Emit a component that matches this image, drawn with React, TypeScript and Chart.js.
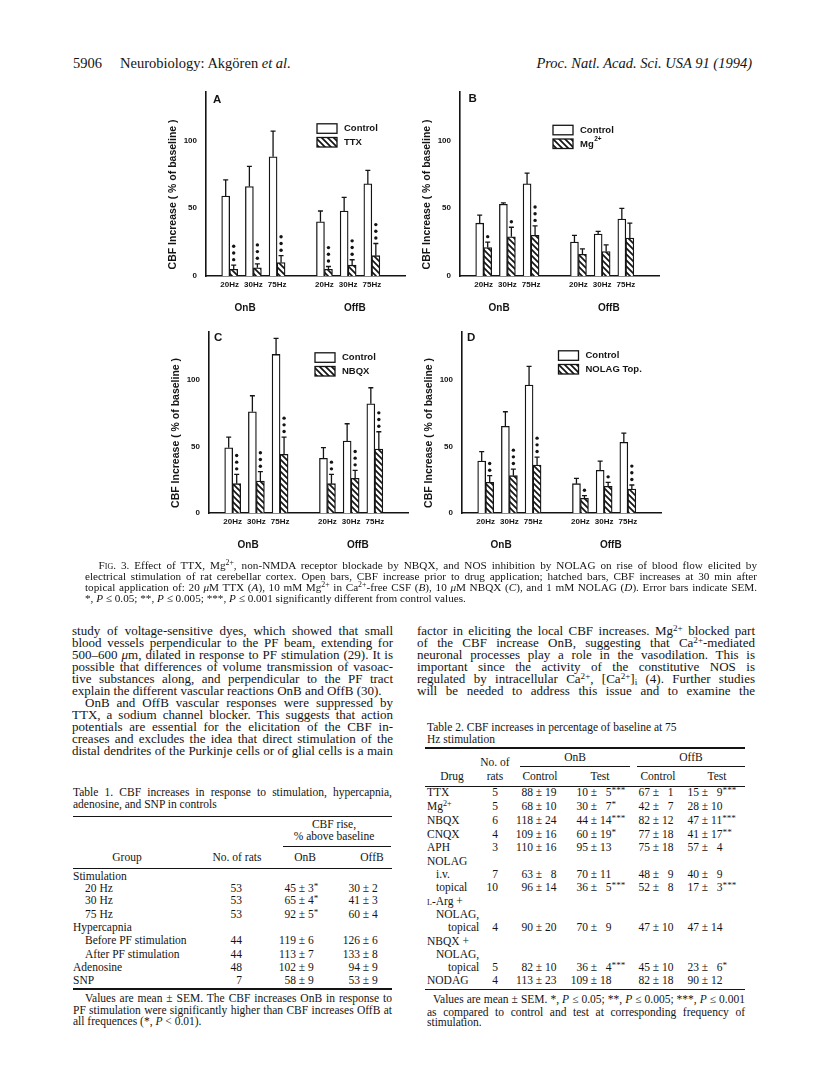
import React, { useEffect, useLayoutEffect, useRef } from 'react';
import { Chart, registerables } from 'chart.js';

Chart.register(...registerables);

const INK = '#141414';
const SANS = '"Liberation Sans", Arial, Helvetica, sans-serif';
const SERIF = '"Liberation Serif", "Times New Roman", Times, serif';

// ---------------- chart data ----------------
const FREQ_LABELS = ['20Hz', '30Hz', '75Hz', '20Hz', '30Hz', '75Hz'];
const FREQ_POS = [1, 2, 3, 5, 6, 7];
const GROUP_LABELS = ['OnB', 'OffB'];
const GROUP_POS = [1.65, 6.28];
const Y_TICKS = [0, 50, 100];
const Y_MAX = 136;
const X_MAX = 8.4;

const A_CONTROL = [59, 66, 88, 40, 48, 68];
const A_CONTROL_SEM = [12, 15, 19, 8, 10, 10];
const A_TTX = [5, 6, 10, 5, 8, 15];
const A_TTX_SEM = [3, 3, 5, 2, 4, 9];
const A_TTX_STARS = [3, 3, 3, 3, 3, 3];

const B_CONTROL = [39, 53, 68, 25, 31, 42];
const B_CONTROL_SEM = [6, 1, 8, 5, 2, 8];
const B_MG = [21, 29, 30, 16, 18, 28];
const B_MG_SEM = [4, 7, 7, 4, 5, 11];
const B_MG_STARS = [1, 1, 3, 0, 0, 0];

const C_CONTROL = [49, 76, 119, 41, 54, 82];
const C_CONTROL_SEM = [8, 12, 12, 8, 13, 12];
const C_NBQX = [22, 24, 44, 22, 26, 48];
const C_NBQX_SEM = [7, 7, 13, 7, 6, 13];
const C_NBQX_STARS = [3, 3, 3, 2, 3, 3];

const D_CONTROL = [39, 65, 96, 22, 32, 53];
const D_CONTROL_SEM = [7, 11, 14, 4, 7, 7];
const D_NOLAG = [23, 28, 36, 11, 20, 18];
const D_NOLAG_SEM = [5, 5, 6, 2, 3, 3];
const D_NOLAG_STARS = [2, 3, 3, 1, 1, 3];

const PANELS = [
  { letter: 'A', drugLabel: 'TTX', drugSup: '', control: A_CONTROL, controlSem: A_CONTROL_SEM, drug: A_TTX, drugSem: A_TTX_SEM, stars: A_TTX_STARS },
  { letter: 'B', drugLabel: 'Mg', drugSup: '2+', control: B_CONTROL, controlSem: B_CONTROL_SEM, drug: B_MG, drugSem: B_MG_SEM, stars: B_MG_STARS },
  { letter: 'C', drugLabel: 'NBQX', drugSup: '', control: C_CONTROL, controlSem: C_CONTROL_SEM, drug: C_NBQX, drugSem: C_NBQX_SEM, stars: C_NBQX_STARS },
  { letter: 'D', drugLabel: 'NOLAG Top.', drugSup: '', control: D_CONTROL, controlSem: D_CONTROL_SEM, drug: D_NOLAG, drugSem: D_NOLAG_SEM, stars: D_NOLAG_STARS },
];

// layout of each panel (page pixels)
const PANEL_LAYOUT = [
  { left: 206, top: 88, bottom: 276, legendDx: 111, legendDy: 32, letterDx: 7, letterDy: 8 },
  { left: 459.5, top: 88, bottom: 276, legendDx: 93, legendDy: 33.5, letterDx: 8.5, letterDy: 7 },
  { left: 209, top: 328, bottom: 513, legendDx: 106, legendDy: 21, letterDx: 5, letterDy: 6 },
  { left: 461.5, top: 328, bottom: 513, legendDx: 96.5, legendDy: 19, letterDx: 5, letterDy: 6 },
];

function makeHatch(ctx: CanvasRenderingContext2D) {
  const s = 6;
  const c = document.createElement('canvas');
  c.width = s;
  c.height = s;
  const g = c.getContext('2d')!;
  g.fillStyle = '#fff';
  g.fillRect(0, 0, s, s);
  g.strokeStyle = INK;
  g.lineWidth = 1.7;
  g.beginPath();
  g.moveTo(-1, -1);
  g.lineTo(s + 1, s + 1);
  g.moveTo(-1, s - 1);
  g.lineTo(1, s + 1);
  g.moveTo(s - 1, -1);
  g.lineTo(s + 1, 1);
  g.stroke();
  return ctx.createPattern(c, 'repeat')!;
}

function Panel({ def, lay }: { def: any; lay: any }) {
  const ref = useRef<HTMLCanvasElement>(null);
  const Y_W = 40, PAD_T = 10, PAD_R = 4, X_H = 18, X2_H = 30, AREA_W = 199;
  const width = Y_W + AREA_W + PAD_R;
  const height = PAD_T + (lay.bottom - lay.top) + X_H + X2_H;

  useEffect(() => {
    const canvas = ref.current!;
    const ctx = canvas.getContext('2d')!;
    const hatch = makeHatch(ctx);
    const pts = (vals: number[]) => vals.map((v, i) => ({ x: FREQ_POS[i], y: v }));

    const annot = {
      id: 'annot',
      afterDatasetsDraw(chart: any) {
        const c = chart.ctx as CanvasRenderingContext2D;
        const ys = chart.scales.y;
        const area = chart.chartArea;
        c.save();
        chart.data.datasets.forEach((ds: any, di: number) => {
          const meta = chart.getDatasetMeta(di);
          meta.data.forEach((el: any, i: number) => {
            const v = ds.data[i].y;
            const top = ys.getPixelForValue(v + ds.sem[i]);
            c.strokeStyle = INK;
            c.lineWidth = 1.3;
            c.beginPath();
            c.moveTo(el.x, el.y);
            c.lineTo(el.x, top);
            c.moveTo(el.x - 2.5, top);
            c.lineTo(el.x + 2.5, top);
            c.stroke();
            const n = ds.stars ? ds.stars[i] : 0;
            c.fillStyle = INK;
            for (let k = 0; k < n; k++) {
              c.beginPath();
              c.arc(el.x, top - 5.5 - k * 6.7, 1.7, 0, Math.PI * 2);
              c.fill();
            }
          });
        });
        // legend
        const lx = area.left + lay.legendDx;
        const ly = area.top + lay.legendDy;
        chart.data.datasets.forEach((ds: any, k: number) => {
          const yy = ly + k * 13.7;
          c.fillStyle = ds.backgroundColor;
          c.fillRect(lx, yy, 20, 9.5);
          c.strokeStyle = INK;
          c.lineWidth = 1.3;
          c.strokeRect(lx, yy, 20, 9.5);
          c.fillStyle = INK;
          c.font = `bold 9.5px ${SANS}`;
          c.textBaseline = 'middle';
          c.textAlign = 'left';
          c.fillText(ds.label, lx + 27, yy + 5);
          if (ds.sup) {
            const w = c.measureText(ds.label).width;
            c.font = `bold 6.5px ${SANS}`;
            c.fillText(ds.sup, lx + 27.5 + w, yy + 0.5);
          }
        });
        // panel letter
        c.fillStyle = INK;
        c.font = `bold 11.5px ${SANS}`;
        c.textBaseline = 'middle';
        c.textAlign = 'left';
        c.fillText(def.letter, area.left + lay.letterDx, area.top + lay.letterDy);
        c.restore();
      },
    };

    const chart = new Chart(canvas, {
      type: 'bar',
      data: {
        datasets: [
          {
            label: 'Control',
            data: pts(def.control),
            sem: def.controlSem,
            stars: null,
            backgroundColor: '#ffffff',
            borderColor: INK,
            borderWidth: 1.3,
            barThickness: 8,
          } as any,
          {
            label: def.drugLabel,
            sup: def.drugSup,
            data: pts(def.drug),
            sem: def.drugSem,
            stars: def.stars,
            backgroundColor: hatch,
            borderColor: INK,
            borderWidth: 1.3,
            barThickness: 8,
          } as any,
        ],
      },
      options: {
        animation: false,
        responsive: false,
        devicePixelRatio: 1,
        layout: { padding: { top: PAD_T, right: PAD_R, left: 0, bottom: 0 } },
        plugins: { legend: { display: false }, tooltip: { enabled: false }, title: { display: false } },
        scales: {
          x: {
            type: 'linear',
            position: 'bottom',
            min: 0,
            max: X_MAX,
            offset: false,
            grid: { display: false, drawTicks: false },
            border: { display: true, color: INK, width: 1.6 },
            afterBuildTicks: (s: any) => { s.ticks = FREQ_POS.map((v) => ({ value: v })); },
            afterFit: (s: any) => { s.height = X_H; },
            ticks: {
              autoSkip: false,
              maxRotation: 0,
              padding: 4,
              color: INK,
              font: { family: SANS, size: 8, weight: 'bold' },
              callback: (_v: any, i: number) => FREQ_LABELS[i],
            },
          },
          x2: {
            type: 'linear',
            position: 'bottom',
            min: 0,
            max: X_MAX,
            offset: false,
            grid: { display: false, drawTicks: false },
            border: { display: false },
            afterBuildTicks: (s: any) => { s.ticks = GROUP_POS.map((v) => ({ value: v })); },
            afterFit: (s: any) => { s.height = X2_H; },
            ticks: {
              autoSkip: false,
              maxRotation: 0,
              padding: 8,
              color: INK,
              font: { family: SANS, size: 10, weight: 'bold' },
              callback: (_v: any, i: number) => GROUP_LABELS[i],
            },
          },
          y: {
            type: 'linear',
            min: 0,
            max: Y_MAX,
            grid: { display: false, drawTicks: false },
            border: { display: true, color: INK, width: 1.6 },
            afterBuildTicks: (s: any) => { s.ticks = Y_TICKS.map((v) => ({ value: v })); },
            afterFit: (s: any) => { s.width = Y_W; },
            ticks: {
              padding: 9,
              color: INK,
              font: { family: SANS, size: 8, weight: 'bold' },
              callback: (v: any) => String(v),
            },
            title: {
              display: true,
              text: 'CBF Increase ( % of baseline )\u2002\u2002\u2002\u2002',
              color: INK,
              font: { family: SANS, size: 10.5, weight: 'bold' },
              padding: { top: 1, bottom: 0 },
            },
          },
        },
      } as any,
      plugins: [annot],
    });
    return () => chart.destroy();
  }, []);

  return (
    <canvas
      ref={ref}
      width={width}
      height={height}
      style={{ position: 'absolute', left: lay.left - Y_W, top: lay.top - PAD_T, width, height }}
    />
  );
}

// ---------------- page text ----------------
function Sup({ children }: any) {
  return <span style={{ fontSize: '0.7em', verticalAlign: '0.45em', lineHeight: 0 }}>{children}</span>;
}
function Sub({ children }: any) {
  return <span style={{ fontSize: '0.7em', verticalAlign: '-0.25em', lineHeight: 0 }}>{children}</span>;
}
function Ast({ children }: any) {
  return <span style={{ fontSize: '0.8em', verticalAlign: '0.35em', lineHeight: 0 }}>{children}</span>;
}

function T({ x, y, w, size, justify, align, italic, children, family }: any) {
  const ref = useRef<HTMLSpanElement>(null);
  useLayoutEffect(() => {
    const el = ref.current;
    if (!el || !justify || !w) return;
    el.style.wordSpacing = '0px';
    const nat = el.getBoundingClientRect().width;
    const n = ((el.textContent || '').match(/ /g) || []).length;
    if (n) el.style.wordSpacing = (w - nat) / n + 'px';
  }, []);
  const h = Math.round(size * 1.2);
  const st: any = {
    position: 'absolute',
    top: y - h / 2 - 1,
    height: h,
    lineHeight: h + 'px',
    fontSize: size,
    whiteSpace: 'nowrap',
    fontFamily: family || SERIF,
    color: INK,
    fontStyle: italic ? 'italic' : 'normal',
  };
  if (align === 'center') {
    st.left = x - 500;
    st.width = 1000;
    st.textAlign = 'center';
  } else if (align === 'right') {
    st.left = x - 1000;
    st.width = 1000;
    st.textAlign = 'right';
  } else {
    st.left = x;
  }
  return (
    <div style={st}>
      <span ref={ref}>{children}</span>
    </div>
  );
}

function Rule({ x, y, w, t = 1 }: any) {
  return <div style={{ position: 'absolute', left: x, top: y - t / 2, width: w, height: t, background: INK }} />;
}

function PM({ pm, y, a, b, s, size }: any) {
  const g = size * 0.53;
  return (
    <>
      <T x={pm - g} y={y} size={size} align="right">{a}</T>
      <T x={pm} y={y} size={size} align="center">±</T>
      <T x={pm + g} y={y} size={size}>{b}{s ? <Ast>{s}</Ast> : null}</T>
    </>
  );
}

const BODY = 13;
const TAB = 11.5;
const CAP = 11.2;

const LEFT_BODY_Y = [632, 644, 656, 668, 680, 692, 704, 716, 728, 740, 752];
const RIGHT_BODY_Y = [632, 644, 656, 668, 680, 692];

const T1_ROWS: any[] = [
  { label: 'Stimulation', ind: 0 },
  { label: '20 Hz', ind: 1, n: '53', on: ['45', '3', '*'], off: ['30', '2'] },
  { label: '30 Hz', ind: 1, n: '53', on: ['65', '4', '*'], off: ['41', '3'] },
  { label: '75 Hz', ind: 1, n: '53', on: ['92', '5', '*'], off: ['60', '4'] },
  { label: 'Hypercapnia', ind: 0 },
  { label: 'Before PF stimulation', ind: 1, n: '44', on: ['119', '6'], off: ['126', '6'] },
  { label: 'After PF stimulation', ind: 1, n: '44', on: ['113', '7'], off: ['133', '8'] },
  { label: 'Adenosine', ind: 0, n: '48', on: ['102', '9'], off: ['94', '9'] },
  { label: 'SNP', ind: 0, n: '7', on: ['58', '9'], off: ['53', '9'] },
];
const T1_Y = [876.7, 888.5, 901, 914.5, 928, 940.7, 954.5, 967.5, 980.5];
const T1_IND = [73, 85];

const FS = '\u2007';
const T2_ROWS: any[] = [
  { label: 'TTX', ind: 0, n: '5', oc: ['88', '19'], ot: ['10', FS + '5', '***'], fc: ['67', FS + '1'], ft: ['15', FS + '9', '***'] },
  { label: <>Mg<Sup>2+</Sup></>, ind: 0, n: '5', oc: ['68', '10'], ot: ['30', FS + '7', '*'], fc: ['42', FS + '7'], ft: ['28', '10'] },
  { label: 'NBQX', ind: 0, n: '6', oc: ['118', '24'], ot: ['44', '14', '***'], fc: ['82', '12'], ft: ['47', '11', '***'] },
  { label: 'CNQX', ind: 0, n: '4', oc: ['109', '16'], ot: ['60', '19', '*'], fc: ['77', '18'], ft: ['41', '17', '**'] },
  { label: 'APH', ind: 0, n: '3', oc: ['110', '16'], ot: ['95', '13'], fc: ['75', '18'], ft: ['57', FS + '4'] },
  { label: 'NOLAG', ind: 0 },
  { label: 'i.v.', ind: 1, n: '7', oc: ['63', FS + '8'], ot: ['70', '11'], fc: ['48', FS + '9'], ft: ['40', FS + '9'] },
  { label: 'topical', ind: 1, n: '10', oc: ['96', '14'], ot: ['36', FS + '5', '***'], fc: ['52', FS + '8'], ft: ['17', FS + '3', '***'] },
  { label: <><span style={{ fontVariant: 'small-caps' }}>l</span>-Arg +</>, ind: 0 },
  { label: 'NOLAG,', ind: 1 },
  { label: 'topical', ind: 2, n: '4', oc: ['90', '20'], ot: ['70', FS + '9'], fc: ['47', '10'], ft: ['47', '14'] },
  { label: 'NBQX +', ind: 0 },
  { label: 'NOLAG,', ind: 1 },
  { label: 'topical', ind: 2, n: '5', oc: ['82', '10'], ot: ['36', FS + '4', '***'], fc: ['45', '10'], ft: ['23', FS + '6', '*'] },
  { label: 'NODAG', ind: 0, n: '4', oc: ['113', '23'], ot: ['109', '18'], fc: ['82', '18'], ft: ['90', '12'] },
];
const T2_Y = [793.3, 806.7, 821, 834.5, 847.5, 861.5, 875, 888.3, 901.7, 915, 928.3, 941.7, 955, 967.5, 980.7];
const T2_IND = [427, 436, 448];

function Page() {
  return (
    <>
      {/* running head */}
      <T x={73} y={64} size={14.5}>5906</T>
      <T x={120} y={64} size={14.5}>Neurobiology: Akgören <i>et al.</i></T>
      <T x={752} y={64} size={14.5} align="right" italic>Proc. Natl. Acad. Sci. USA 91 (1994)</T>

      {/* caption */}
      <T x={98.5} y={566} w={658.5} size={CAP} justify>
        <span style={{ fontVariant: 'small-caps' }}>Fig.</span> 3. Effect of TTX, Mg<Sup>2+</Sup>, non-NMDA receptor blockade by NBQX, and NOS inhibition by NOLAG on rise of blood flow elicited by
      </T>
      <T x={85} y={577} w={672} size={CAP} justify>
        electrical stimulation of rat cerebellar cortex. Open bars, CBF increase prior to drug application; hatched bars, CBF increases at 30 min after
      </T>
      <T x={85} y={588.5} w={672} size={CAP} justify>
        topical application of: 20 <i>μ</i>M TTX (<i>A</i>), 10 mM Mg<Sup>2+</Sup> in Ca<Sup>2+</Sup>-free CSF (<i>B</i>), 10 <i>μ</i>M NBQX (<i>C</i>), and 1 mM NOLAG (<i>D</i>). Error bars indicate SEM.
      </T>
      <T x={85} y={599.5} size={CAP}>
        *, <i>P</i> ≤ 0.05; **, <i>P</i> ≤ 0.005; ***, <i>P</i> ≤ 0.001 significantly different from control values.
      </T>

      {/* left column body */}
      <T x={72} y={LEFT_BODY_Y[0]} w={321} size={BODY} justify>study of voltage-sensitive dyes, which showed that small</T>
      <T x={72} y={LEFT_BODY_Y[1]} w={321} size={BODY} justify>blood vessels perpendicular to the PF beam, extending for</T>
      <T x={72} y={LEFT_BODY_Y[2]} w={321} size={BODY} justify>500–600 <i>μ</i>m, dilated in response to PF stimulation (29). It is</T>
      <T x={72} y={LEFT_BODY_Y[3]} w={321} size={BODY} justify>possible that differences of volume transmission of vasoac-</T>
      <T x={72} y={LEFT_BODY_Y[4]} w={321} size={BODY} justify>tive substances along, and perpendicular to the PF tract</T>
      <T x={72} y={LEFT_BODY_Y[5]} size={BODY}>explain the different vascular reactions OnB and OffB (30).</T>
      <T x={85} y={LEFT_BODY_Y[6]} w={308} size={BODY} justify>OnB and OffB vascular responses were suppressed by</T>
      <T x={72} y={LEFT_BODY_Y[7]} w={321} size={BODY} justify>TTX, a sodium channel blocker. This suggests that action</T>
      <T x={72} y={LEFT_BODY_Y[8]} w={321} size={BODY} justify>potentials are essential for the elicitation of the CBF in-</T>
      <T x={72} y={LEFT_BODY_Y[9]} w={321} size={BODY} justify>creases and excludes the idea that direct stimulation of the</T>
      <T x={72} y={LEFT_BODY_Y[10]} w={321} size={BODY} justify>distal dendrites of the Purkinje cells or of glial cells is a main</T>

      {/* right column body */}
      <T x={417} y={RIGHT_BODY_Y[0]} w={338} size={BODY} justify>factor in eliciting the local CBF increases. Mg<Sup>2+</Sup> blocked part</T>
      <T x={417} y={RIGHT_BODY_Y[1]} w={338} size={BODY} justify>of the CBF increase OnB, suggesting that Ca<Sup>2+</Sup>-mediated</T>
      <T x={417} y={RIGHT_BODY_Y[2]} w={338} size={BODY} justify>neuronal processes play a role in the vasodilation. This is</T>
      <T x={417} y={RIGHT_BODY_Y[3]} w={338} size={BODY} justify>important since the activity of the constitutive NOS is</T>
      <T x={417} y={RIGHT_BODY_Y[4]} w={338} size={BODY} justify>regulated by intracellular Ca<Sup>2+</Sup>, [Ca<Sup>2+</Sup>]<Sub>i</Sub> (4). Further studies</T>
      <T x={417} y={RIGHT_BODY_Y[5]} w={338} size={BODY} justify>will be needed to address this issue and to examine the</T>

      {/* Table 1 */}
      <T x={73} y={793} w={319} size={TAB} justify>Table 1. CBF increases in response to stimulation, hypercapnia,</T>
      <T x={73} y={805} size={TAB}>adenosine, and SNP in controls</T>
      <Rule x={73} y={816.5} w={319} t={1.6} />
      <T x={334} y={825} size={TAB} align="center">CBF rise,</T>
      <T x={334} y={837} size={TAB} align="center">% above baseline</T>
      <Rule x={283} y={846.5} w={108} t={1} />
      <T x={127} y={858} size={TAB} align="center">Group</T>
      <T x={237} y={858} size={TAB} align="center">No. of rats</T>
      <T x={305} y={858} size={TAB} align="center">OnB</T>
      <T x={372} y={858} size={TAB} align="center">OffB</T>
      <Rule x={73} y={868} w={319} t={1} />
      {T1_ROWS.map((r, i) => (
        <React.Fragment key={'t1' + i}>
          <T x={T1_IND[r.ind]} y={T1_Y[i]} size={TAB}>{r.label}</T>
          {r.n ? <T x={242} y={T1_Y[i]} size={TAB} align="right">{r.n}</T> : null}
          {r.on ? <PM pm={302} y={T1_Y[i]} size={TAB} a={r.on[0]} b={r.on[1]} s={r.on[2]} /> : null}
          {r.off ? <PM pm={366} y={T1_Y[i]} size={TAB} a={r.off[0]} b={r.off[1]} s={r.off[2]} /> : null}
        </React.Fragment>
      ))}
      <Rule x={73} y={989} w={319} t={1.6} />
      <T x={85} y={999.3} w={307} size={TAB} justify>Values are mean ± SEM. The CBF increases OnB in response to</T>
      <T x={73} y={1010.7} w={319} size={TAB} justify>PF stimulation were significantly higher than CBF increases OffB at</T>
      <T x={73} y={1021.7} size={TAB}>all frequences (*, <i>P</i> &lt; 0.01).</T>

      {/* Table 2 */}
      <T x={427} y={728.3} size={TAB}>Table 2. CBF increases in percentage of baseline at 75</T>
      <T x={427} y={740} size={TAB}>Hz stimulation</T>
      <Rule x={425} y={748} w={320} t={1.6} />
      <T x={495} y={763.3} size={TAB} align="center">No. of</T>
      <T x={575} y={758.3} size={TAB} align="center">OnB</T>
      <T x={691} y={758.3} size={TAB} align="center">OffB</T>
      <Rule x={520} y={766.5} w={110} t={1} />
      <Rule x={637} y={766.5} w={108} t={1} />
      <T x={452} y={777} size={TAB} align="center">Drug</T>
      <T x={495} y={777} size={TAB} align="center">rats</T>
      <T x={540} y={777} size={TAB} align="center">Control</T>
      <T x={600} y={777} size={TAB} align="center">Test</T>
      <T x={658} y={777} size={TAB} align="center">Control</T>
      <T x={717} y={777} size={TAB} align="center">Test</T>
      <Rule x={425} y={786.7} w={320} t={1} />
      {T2_ROWS.map((r, i) => (
        <React.Fragment key={'t2' + i}>
          <T x={T2_IND[r.ind]} y={T2_Y[i]} size={TAB}>{r.label}</T>
          {r.n ? <T x={498} y={T2_Y[i]} size={TAB} align="right">{r.n}</T> : null}
          {r.oc ? <PM pm={539} y={T2_Y[i]} size={TAB} a={r.oc[0]} b={r.oc[1]} s={r.oc[2]} /> : null}
          {r.ot ? <PM pm={594} y={T2_Y[i]} size={TAB} a={r.ot[0]} b={r.ot[1]} s={r.ot[2]} /> : null}
          {r.fc ? <PM pm={656} y={T2_Y[i]} size={TAB} a={r.fc[0]} b={r.fc[1]} s={r.fc[2]} /> : null}
          {r.ft ? <PM pm={705} y={T2_Y[i]} size={TAB} a={r.ft[0]} b={r.ft[1]} s={r.ft[2]} /> : null}
        </React.Fragment>
      ))}
      <Rule x={425} y={989.3} w={320} t={1.6} />
      <T x={433} y={1000} w={312} size={TAB} justify>Values are mean ± SEM. *, <i>P</i> ≤ 0.05; **, <i>P</i> ≤ 0.005; ***, <i>P</i> ≤ 0.001</T>
      <T x={427} y={1012.5} w={318} size={TAB} justify>as compared to control and test at corresponding frequency of</T>
      <T x={427} y={1023.3} size={TAB}>stimulation.</T>
    </>
  );
}

export default function App() {
  return (
    <div style={{ position: 'absolute', left: 0, top: 0, width: 816, height: 1078, background: '#fff', overflow: 'hidden' }}>
      {PANELS.map((p, i) => (
        <Panel key={p.letter} def={p} lay={PANEL_LAYOUT[i]} />
      ))}
      <Page />
    </div>
  );
}
